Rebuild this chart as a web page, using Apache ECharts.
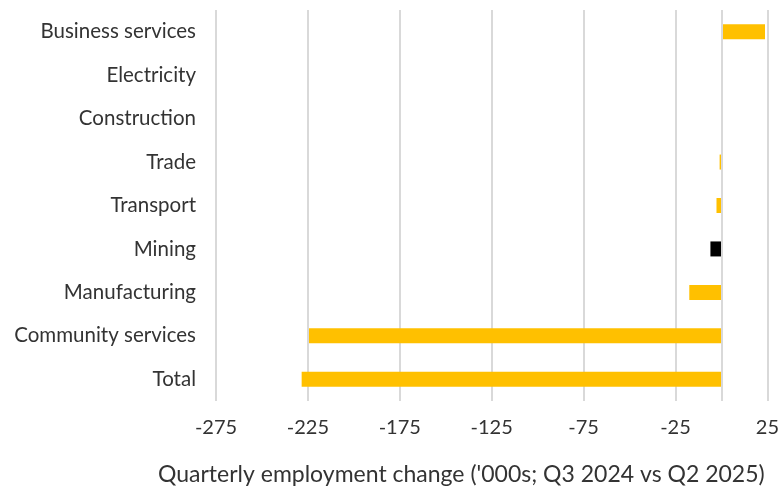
<!DOCTYPE html>
<html>
<head>
<meta charset="utf-8">
<script src="https://cdn.jsdelivr.net/npm/echarts@6/dist/echarts.min.js"></script>
<style>
  html, body { margin: 0; padding: 0; background: #fff; }
  #chart { width: 782px; height: 487px; }
</style>
</head>
<body>
<div id="chart"></div>
<script>
const categories = [
  "Business services",
  "Electricity",
  "Construction",
  "Trade",
  "Transport",
  "Mining",
  "Manufacturing",
  "Community services",
  "Total",
];
// '000s, Q3 2024 vs Q2 2025
const changes = [23.7, 0, 0, -1, -2.7, -6, -17.5, -224.4, -228.4];
const highlight = "Mining";
const axisTitle = "Quarterly employment change ('000s; Q3 2024 vs Q2 2025)";

const font = "Lato, 'Open Sans', sans-serif";
const textColor = "#333333";

const chart = echarts.init(document.getElementById("chart"));
chart.setOption({
  animation: false,
  title: {
    text: axisTitle,
    left: 153,
    top: 458,
    textStyle: { fontFamily: font, fontSize: 23, fontWeight: "normal", color: textColor },
  },
  grid: { left: 216, right: 12, top: 10, bottom: 86 },
  xAxis: {
    type: "value",
    min: -275,
    max: 25,
    interval: 50,
    axisLine: { show: false },
    axisTick: { show: false },
    axisLabel: { margin: 17, fontFamily: font, fontSize: 20, color: textColor },
    splitLine: { show: true, showMinLine: true, showMaxLine: true, lineStyle: { color: "#d9d9d9", width: 2 } },
  },
  yAxis: {
    type: "category",
    inverse: true,
    data: categories,
    axisLine: { show: false, onZero: false },
    axisTick: { show: false },
    axisLabel: { margin: 20, fontFamily: font, fontSize: 20.5, color: textColor },
  },
  series: [
    {
      type: "bar",
      barWidth: 15,
      data: changes.map((v, i) => ({
        value: v,
        itemStyle: { color: categories[i] === highlight ? "#000000" : "#ffc000" },
      })),
      markLine: {
        silent: true,
        symbol: "none",
        label: { show: false },
        lineStyle: { color: "#d9d9d9", width: 2, type: "solid" },
        data: [{ xAxis: 0 }],
      },
      z: 3,
    },
  ],
});
</script>
</body>
</html>
